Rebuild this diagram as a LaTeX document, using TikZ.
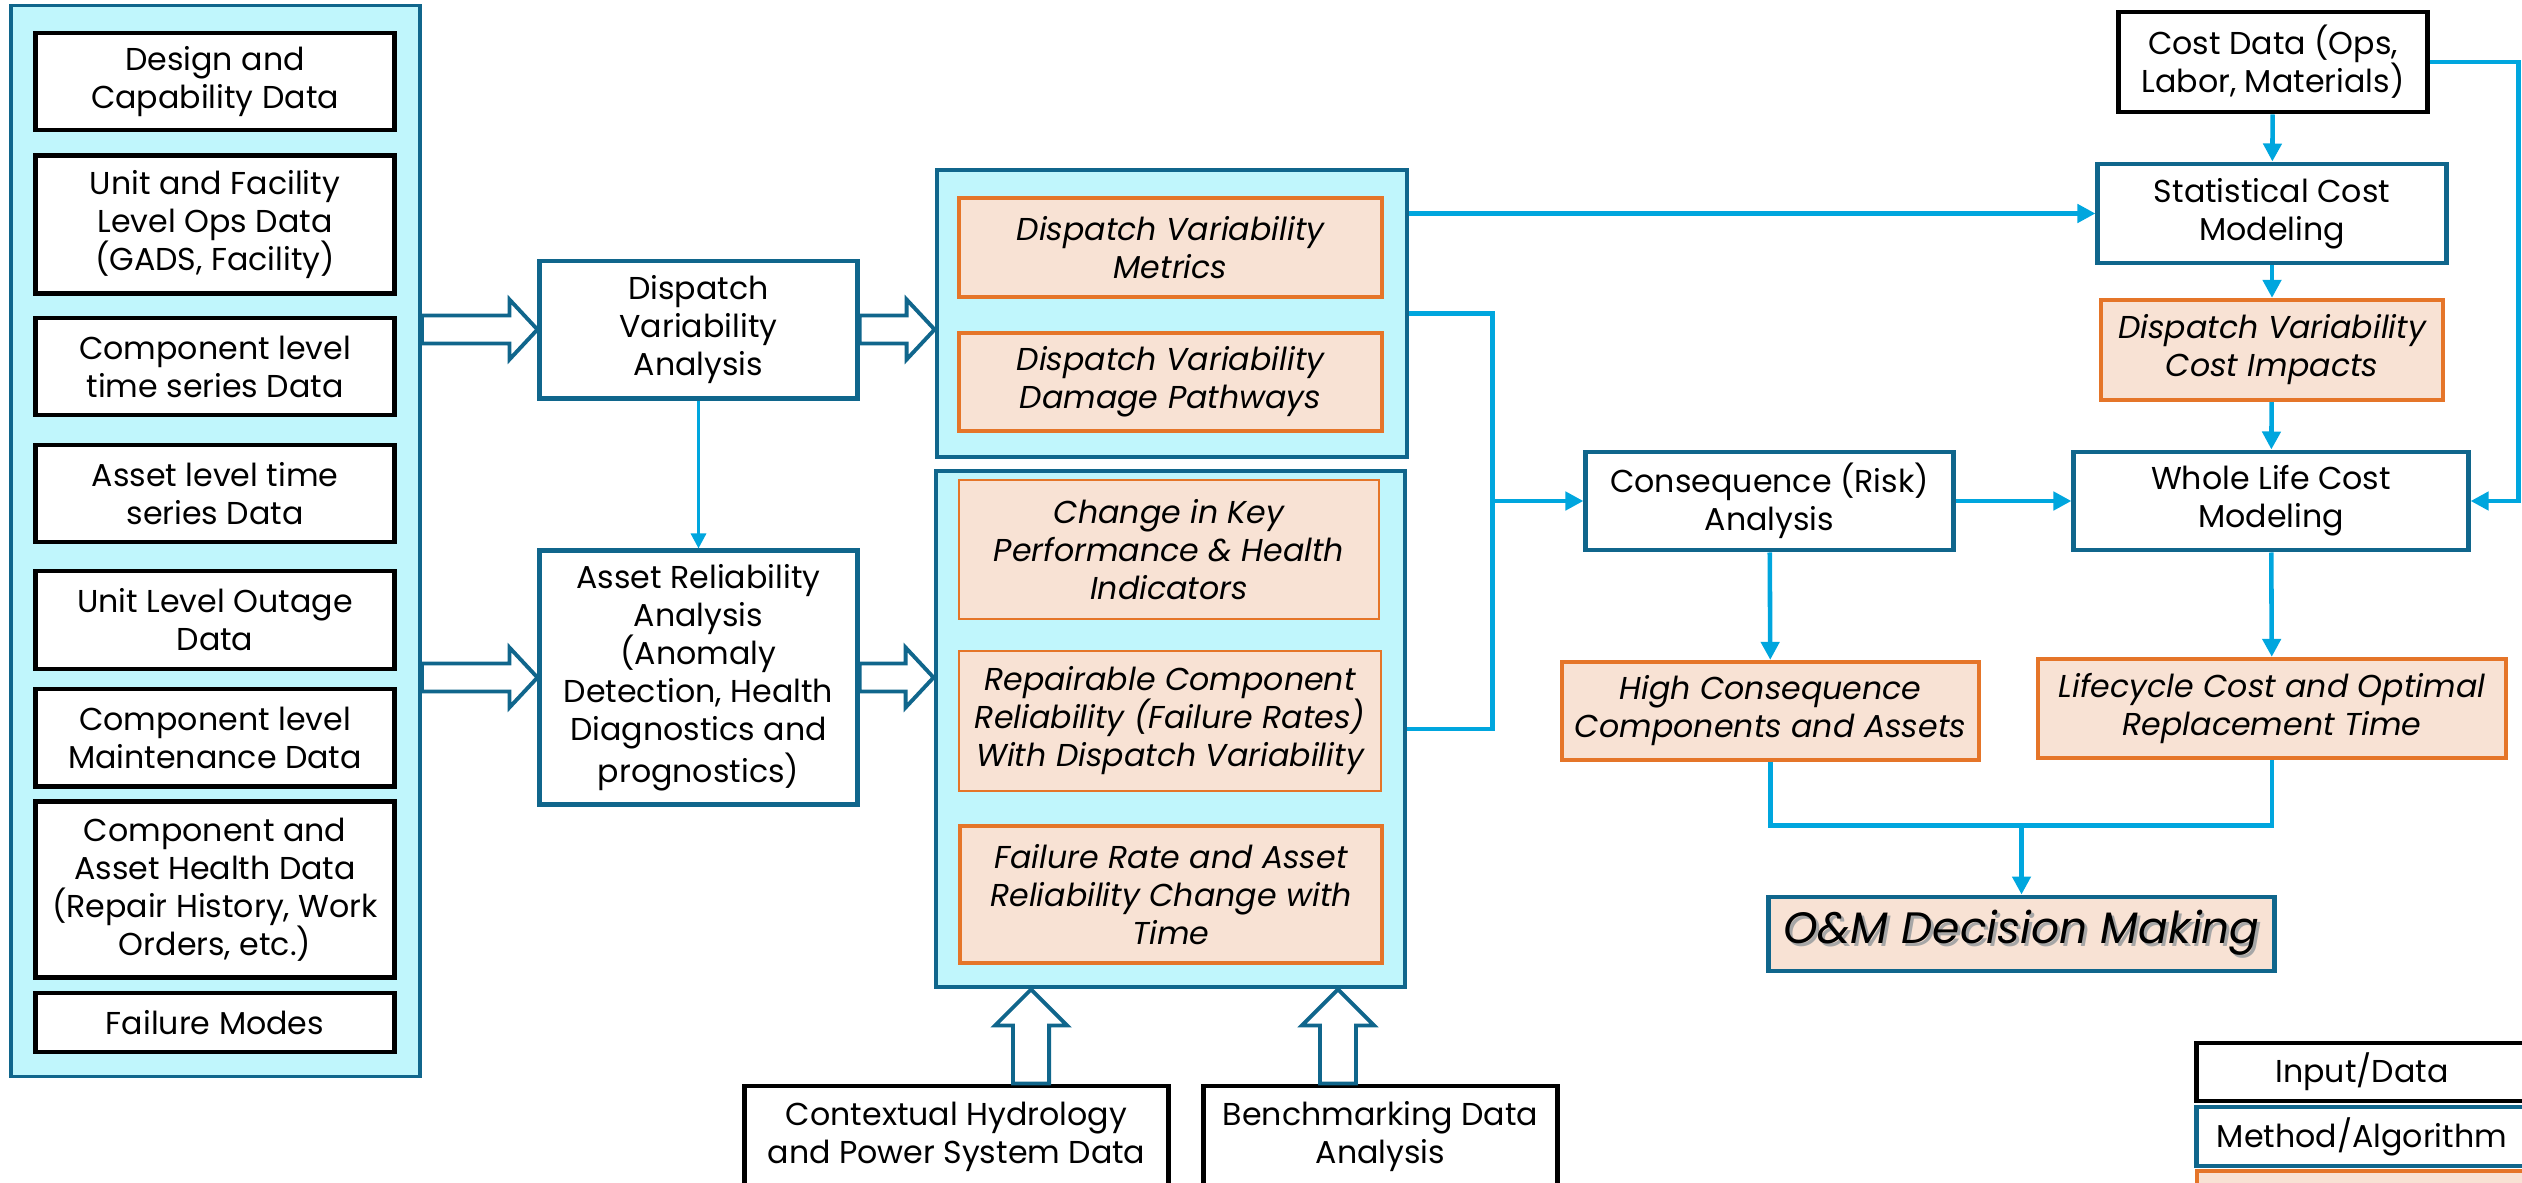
\documentclass[tikz,border=0pt]{standalone}
\usepackage{fontspec}
\setmainfont{Poppins}
\usepackage{tikz}
\usetikzlibrary{arrows.meta,positioning,calc}
\definecolor{steel}{RGB}{16,102,140}
\definecolor{paleblue}{RGB}{192,246,252}
\definecolor{rust}{RGB}{229,117,41}
\definecolor{peach}{RGB}{248,226,212}
\definecolor{sky}{RGB}{0,166,222}

\begin{document}
\begin{tikzpicture}[
  x=0.01cm, y=-0.01cm,
  every node/.style={font=\fontsize{9}{10.8}\selectfont, inner sep=0pt, align=center},
  panel/.style={draw=steel, line width=1pt, fill=paleblue},
  databox/.style={draw=black, line width=1.4pt, fill=white},
  method/.style={draw=steel, line width=1.4pt, fill=white},
  result/.style={draw=rust, line width=1.2pt, fill=peach, font=\fontsize{9}{10.8}\selectfont\itshape},
  resultthin/.style={result, line width=0.6pt},
  link/.style={draw=sky, line width=1.3pt, -{Triangle[length=1.8mm,width=1.8mm]}},
  feed/.style={draw=sky, line width=1.3pt},
  fatright/.style={draw=steel, line width=1.1pt, fill=white,
    to path={let \p1=(\tikztostart), \p2=(\tikztotarget) in
      (\x1,\y1+0.14cm) -- (\x2-0.28cm,\y1+0.14cm) -- (\x2-0.28cm,\y1+0.30cm) -- (\x2,\y1)
      -- (\x2-0.28cm,\y1-0.30cm) -- (\x2-0.28cm,\y1-0.14cm) -- (\x1,\y1-0.14cm) -- cycle}},
  fatup/.style={draw=steel, line width=1.1pt, fill=white,
    to path={let \p1=(\tikztostart), \p2=(\tikztotarget) in
      (\x1-0.18cm,\y1) -- (\x1-0.18cm,\y2-0.36cm) -- (\x1-0.36cm,\y2-0.36cm) -- (\x1,\y2)
      -- (\x1+0.36cm,\y2-0.36cm) -- (\x1+0.18cm,\y2-0.36cm) -- (\x1+0.18cm,\y1) -- cycle}}
]
\useasboundingbox (0,0) rectangle (2522,1182);
\clip (0,0) rectangle (2522,1182);

\node[panel, minimum width=4.09cm, minimum height=10.70cm] (datapanel) at (215.5,541) {};
\node[databox, minimum width=3.58cm, minimum height=0.97cm] (design) at (215,81.5) {Design and\\Capability Data};
\node[databox, minimum width=3.58cm, minimum height=1.37cm] (unitops) at (215,224.5) {Unit and Facility\\Level Ops Data\\(GADS, Facility)};
\node[databox, minimum width=3.58cm, minimum height=0.97cm] (compts) at (215,366.5) {Component level\\time series Data};
\node[databox, minimum width=3.58cm, minimum height=0.97cm] (assetts) at (215,493.5) {Asset level time\\series Data};
\node[databox, minimum width=3.58cm, minimum height=0.98cm] (outage) at (215,620) {Unit Level Outage\\Data};
\node[databox, minimum width=3.58cm, minimum height=0.97cm] (maint) at (215,737.5) {Component level\\Maintenance Data};
\node[databox, minimum width=3.58cm, minimum height=1.75cm] (health) at (215,889.5) {Component and\\Asset Health Data\\(Repair History, Work\\Orders, etc.)};
\node[databox, minimum width=3.58cm, minimum height=0.59cm] (modes) at (215,1022.5) {Failure Modes};

\node[method, minimum width=3.17cm, minimum height=1.37cm] (dva) at (698.5,329.5) {Dispatch\\Variability\\Analysis};
\node[method, minimum width=3.17cm, minimum height=2.53cm] (ara) at (698.5,677.5) {Asset Reliability\\Analysis\\(Anomaly\\Detection, Health\\Diagnostics and\\prognostics)};

\node[panel, line width=1.3pt, minimum width=4.70cm, minimum height=2.87cm] (outtop) at (1172,313.5) {};
\node[result, minimum width=4.23cm, minimum height=0.99cm] (metrics) at (1170.5,247.5) {Dispatch Variability\\Metrics};
\node[result, minimum width=4.23cm, minimum height=0.98cm] (pathways) at (1170.5,382) {Dispatch Variability\\Damage Pathways};
\node[panel, line width=1.3pt, minimum width=4.69cm, minimum height=5.16cm] (outbot) at (1170.5,729) {};
\node[resultthin, minimum width=4.20cm, minimum height=1.39cm] (kpi) at (1169,549.5) {Change in Key\\Performance \& Health\\Indicators};
\node[resultthin, minimum width=4.22cm, minimum height=1.40cm] (rates) at (1170,721) {Repairable Component\\Reliability (Failure Rates)\\With Dispatch Variability};
\node[result, minimum width=4.22cm, minimum height=1.37cm] (ratetime) at (1171,894.5) {Failure Rate and Asset\\Reliability Change with\\Time};

\node[databox, minimum width=4.23cm, minimum height=1.02cm] (hydro) at (956.5,1137) {Contextual Hydrology\\and Power System Data};
\node[databox, minimum width=3.53cm, minimum height=1.02cm] (bench) at (1380.5,1137) {Benchmarking Data\\Analysis};

\node[databox, minimum width=3.08cm, minimum height=1.00cm] (cost) at (2273,62) {Cost Data (Ops,\\Labor, Materials)};
\node[method, minimum width=3.48cm, minimum height=0.99cm] (stat) at (2272,213.5) {Statistical Cost\\Modeling};
\node[result, minimum width=3.42cm, minimum height=1.00cm] (impacts) at (2272,350) {Dispatch Variability\\Cost Impacts};
\node[method, minimum width=3.67cm, minimum height=0.98cm] (risk) at (1769.5,501) {Consequence (Risk)\\Analysis};
\node[method, minimum width=3.94cm, minimum height=0.98cm] (wlc) at (2271,501) {Whole Life Cost\\Modeling};
\node[result, minimum width=4.17cm, minimum height=0.98cm] (highc) at (1770.5,711) {High Consequence\\Components and Assets};
\node[result, minimum width=4.68cm, minimum height=0.99cm] (lifecyc) at (2272,708.5) {Lifecycle Cost and Optimal\\Replacement Time};
\node[method, fill=peach, minimum width=5.05cm, minimum height=0.74cm,
  font=\fontsize{12.5}{14}\selectfont\itshape] (om) at (2021.5,934)
  {\rlap{\hspace{0.8pt}\raisebox{-0.9pt}{\color{black!35}O\&M Decision Making}}O\&M Decision Making};

\node[databox, minimum width=3.30cm, minimum height=0.58cm] (keyin) at (2362,1072) {Input/Data};
\node[method, minimum width=3.30cm, minimum height=0.59cm] (keymethod) at (2362,1136.5) {Method/Algorithm};
\node[result, minimum width=3.30cm, minimum height=0.59cm] (keyresult) at (2362,1200.5) {};

\draw[fatright] (datapanel.east |- dva.west) to (dva.west);
\draw[fatright] (datapanel.east |- ara.west) to (ara.west);
\draw[fatright] (dva.east) to (outtop.west |- dva.east);
\draw[fatright] (ara.east) to (outbot.west |- ara.east);
\draw[fatup] ([xshift=0.745cm]hydro.north) to ([xshift=0.745cm]hydro.north |- outbot.south);
\draw[fatup] ([xshift=-0.425cm]bench.north) to ([xshift=-0.425cm]bench.north |- outbot.south);

\draw[draw=sky, line width=0.9pt, -{Triangle[length=1.5mm,width=1.5mm]}] (dva) -- (ara);

\coordinate (jn) at ([xshift=-0.91cm]risk.west);
\draw[link] (outtop.east |- stat.west) -- (stat.west);
\draw[feed] (outtop.east) -| (jn);
\draw[feed] (outbot.east) -| (jn);
\draw[link] (jn) -- (risk.west);
\draw[link] (cost) -- (stat);
\draw[link] (stat) -- (impacts);
\draw[link] (impacts) -- (wlc);
\draw[link] (cost.east) -- ++(0.89cm,0) |- (wlc.east);
\draw[link] (risk) -- (wlc);
\draw[link] (risk) -- (highc);
\draw[link] (wlc) -- (lifecyc);

\coordinate (mg) at ([yshift=0.69cm]om.north);
\draw[feed] (highc.south) |- (mg) -| (lifecyc.south);
\draw[link] (mg) -- (om.north);
\end{tikzpicture}
\end{document}
